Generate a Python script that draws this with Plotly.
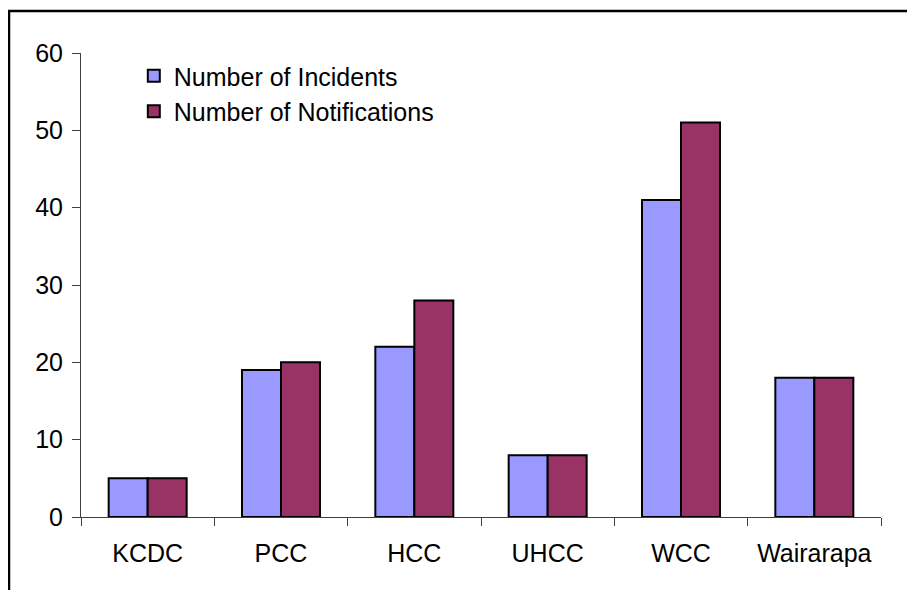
import plotly.graph_objects as go

categories = ["KCDC", "PCC", "HCC", "UHCC", "WCC", "Wairarapa"]
incidents = [5, 19, 22, 8, 41, 18]
notifications = [5, 20, 28, 8, 51, 18]
y_ticks = [0, 10, 20, 30, 40, 50, 60]

FONT = "Liberation Sans, Arial, sans-serif"

fig = go.Figure()
fig.add_trace(go.Bar(x=categories, y=incidents, name="Number of Incidents",
                     marker=dict(color="#9999FF", line=dict(color="black", width=2)),
                     legendgroup="a"))
fig.add_trace(go.Bar(x=categories, y=notifications, name="Number of Notifications",
                     marker=dict(color="#993366", line=dict(color="black", width=2)),
                     legendgroup="b"))

fig.update_layout(
    width=915, height=590,
    margin=dict(l=73, r=42, t=45, b=81),
    paper_bgcolor="white", plot_bgcolor="white",
    font=dict(family=FONT, size=25, color="black"),
    barmode="group", bargap=0.415, bargroupgap=0,
    showlegend=True,
    legend=dict(x=0.066, y=1.0, xanchor="left", yanchor="top",
                font=dict(size=25), traceorder="grouped", tracegroupgap=0,
                bgcolor="rgba(0,0,0,0)"),
    xaxis=dict(showline=True, linecolor="#404040", linewidth=1,
               ticks="outside", ticklen=8, tickcolor="#404040", tickson="boundaries",
               showgrid=False, tickfont=dict(size=25), ticklabelstandoff=14),
    yaxis=dict(range=[0, 60], tickvals=y_ticks, showline=True, linecolor="#404040",
               linewidth=1, ticks="outside", ticklen=8, tickcolor="#404040",
               showgrid=False, zeroline=False, tickfont=dict(size=25),
               ticklabelstandoff=4),
    shapes=[dict(type="rect", xref="paper", yref="paper",
                 x0=-0.09, x1=1.2, y0=-0.3, y1=1.0905,
                 line=dict(color="black", width=2.5), fillcolor="rgba(0,0,0,0)",
                 layer="below")],
)

fig.write_html("out.html")
